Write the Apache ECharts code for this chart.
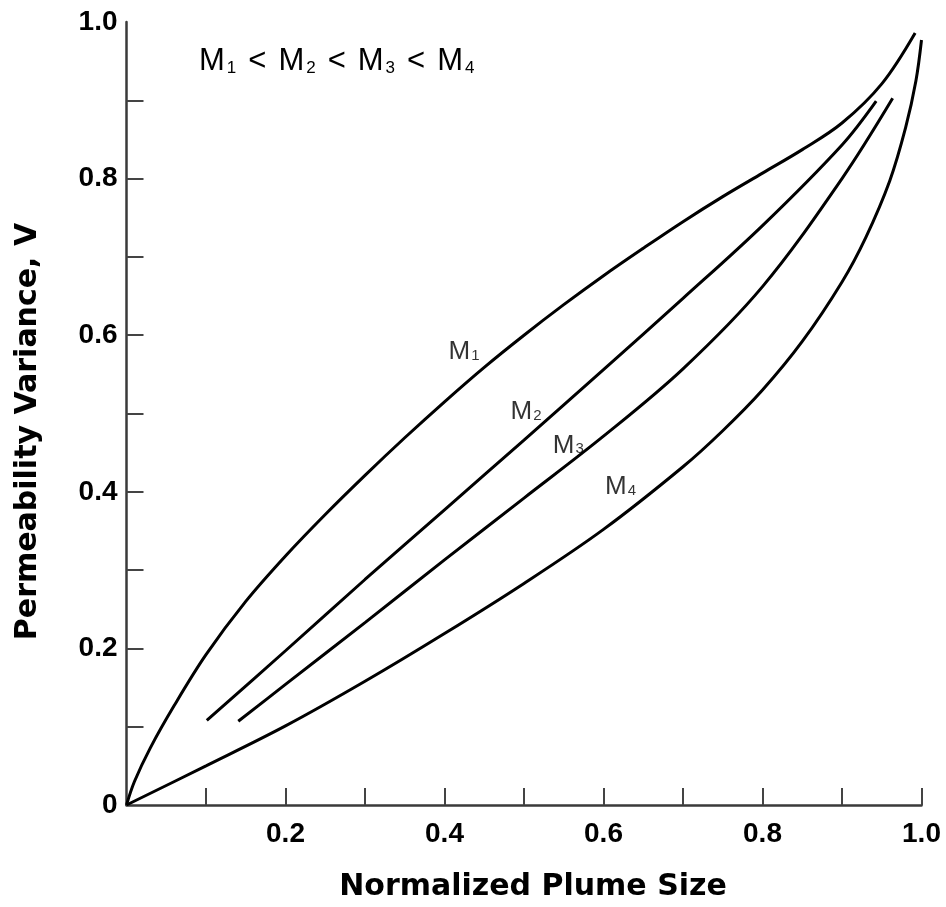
<!DOCTYPE html>
<html>
<head>
<meta charset="utf-8">
<script src="https://cdn.jsdelivr.net/npm/echarts@6/dist/echarts.min.js"></script>
<style>
html, body { margin: 0; padding: 0; background: #fff; }
#content { width: 946px; height: 907px; }
</style>
</head>
<body>
<div id="content"></div>
<script>
// points: [normalized plume size, permeability variance]
var m1Data = [[0, 0], [0.01, 0.03], [0.03, 0.073], [0.06, 0.127], [0.1, 0.192], [0.15, 0.26],
    [0.2, 0.318], [0.25, 0.371], [0.3, 0.421], [0.35, 0.469], [0.4, 0.515], [0.45, 0.559],
    [0.5, 0.6], [0.55, 0.639], [0.6, 0.676], [0.65, 0.711], [0.7, 0.745], [0.75, 0.777],
    [0.8, 0.807], [0.85, 0.837], [0.9, 0.871], [0.95, 0.921], [0.992, 0.986]];
var m2Data = [[0.101, 0.108], [0.2, 0.197], [0.3, 0.288], [0.4, 0.377], [0.5, 0.466], [0.6, 0.556],
    [0.7, 0.647], [0.8, 0.74], [0.9, 0.843], [0.943, 0.899]];
var m3Data = [[0.1406, 0.107], [0.2, 0.154], [0.3, 0.233], [0.4, 0.313], [0.5, 0.392], [0.6, 0.471],
    [0.7, 0.557], [0.8, 0.662], [0.9, 0.8], [0.9637, 0.9025]];
var m4Data = [[0, 0], [0.1, 0.05], [0.2, 0.101], [0.3, 0.158], [0.4, 0.219], [0.5, 0.283], [0.6, 0.352],
    [0.7, 0.432], [0.75, 0.478], [0.8, 0.53], [0.85, 0.592], [0.9, 0.668], [0.93, 0.725],
    [0.96, 0.797], [0.98, 0.865], [0.993, 0.925], [1.0, 0.977]];

// curve labels and where they sit
var curveNames = ['M1', 'M2', 'M3', 'M4'];
var labelX = [0.4245, 0.5025, 0.5557, 0.6214];
var labelY = [0.5795, 0.503, 0.4605, 0.407];

// ticks and tick labels
var xTicks = [0.1, 0.2, 0.3, 0.4, 0.5, 0.6, 0.7, 0.8, 0.9, 1.0];
var xLabels = [0.2, 0.4, 0.6, 0.8, 1.0];
var yTicks = [0.1, 0.2, 0.3, 0.4, 0.5, 0.6, 0.7, 0.8, 0.9];
var yLabels = [0, 0.2, 0.4, 0.6, 0.8, 1.0];

var chart = echarts.init(document.getElementById('content'));

// "M1" -> M with subscript 1
function subName(name) {
    return '{m|' + name.charAt(0) + '}{s|' + name.slice(1) + '}';
}

var labelRich = {
    m: { fontSize: 26, fontFamily: 'Liberation Sans, Arial', color: '#000', lineHeight: 24, verticalAlign: 'top' },
    s: { fontSize: 15, fontFamily: 'Liberation Sans, Arial', color: '#000', lineHeight: 15, padding: [18, 0, 0, 1], verticalAlign: 'bottom' }
};

var curves = [m1Data, m2Data, m3Data, m4Data];
var series = curves.map(function (d, i) {
    return {
        name: curveNames[i],
        type: 'line',
        data: d,
        smooth: 0.35,
        symbol: 'none',
        silent: true,
        lineStyle: { color: '#000', width: 3 }
    };
});

series.push({
    type: 'scatter',
    symbolSize: 0,
    silent: true,
    data: curveNames.map(function (n, i) {
        return { name: n, value: [labelX[i], labelY[i]] };
    }),
    label: {
        show: true,
        position: 'inside',
        color: '#000',
        textBorderWidth: 0,
        formatter: function (p) { return subName(p.name); },
        rich: labelRich
    }
});

var titleText = curveNames.map(subName).join('{lt|<}');

var axisFont = { fontSize: 28, fontWeight: 'bold', fontFamily: 'Liberation Sans, Arial', color: '#000' };
var nameFont = { fontSize: 30, fontWeight: 'bold', fontFamily: 'DejaVu Sans', color: '#000' };

var option = {
    animation: false,
    backgroundColor: '#fff',
    grid: { left: 126.5, right: 24.5, top: 22, bottom: 102, containLabel: false, outerBoundsMode: 'none' },
    xAxis: {
        type: 'value',
        min: 0, max: 1, interval: 0.1,
        name: 'Normalized Plume Size',
        nameLocation: 'middle',
        nameGap: 67,
        nameTextStyle: Object.assign({ padding: [0, 0, 0, 18] }, nameFont),
        splitLine: { show: false },
        axisLine: { lineStyle: { color: '#3a3a3a', width: 2.5 } },
        axisTick: { inside: true, length: 17, customValues: xTicks, lineStyle: { color: '#444', width: 2 } },
        axisLabel: Object.assign({
            customValues: xLabels,
            margin: 15,
            formatter: function (v) { return v.toFixed(1); }
        }, axisFont)
    },
    yAxis: {
        type: 'value',
        min: 0, max: 1, interval: 0.1,
        name: 'Permeability Variance, V',
        nameLocation: 'middle',
        nameGap: 83,
        nameTextStyle: Object.assign({ padding: [0, 36, 0, 0] }, nameFont),
        splitLine: { show: false },
        axisLine: { lineStyle: { color: '#3a3a3a', width: 2.5 } },
        axisTick: { inside: true, length: 17, customValues: yTicks, lineStyle: { color: '#444', width: 2 } },
        axisLabel: Object.assign({
            customValues: yLabels,
            margin: 9,
            formatter: function (v) { return v === 0 ? '0' : v.toFixed(1); }
        }, axisFont)
    },
    graphic: [{
        type: 'text',
        left: 199,
        top: 35,
        silent: true,
        style: {
            text: titleText,
            rich: {
                m: { fontSize: 31, fontFamily: 'Liberation Sans, Arial', fill: '#000', lineHeight: 31, verticalAlign: 'top' },
                s: { fontSize: 17, fontFamily: 'Liberation Sans, Arial', fill: '#000', lineHeight: 17, padding: [25, 0, 0, 2], verticalAlign: 'bottom' },
                lt: { fontSize: 31, fontFamily: 'Liberation Sans, Arial', fill: '#000', lineHeight: 31, padding: [0, 12, 0, 12], verticalAlign: 'top' }
            }
        }
    }],
    series: series
};

chart.setOption(option);
</script>
</body>
</html>
